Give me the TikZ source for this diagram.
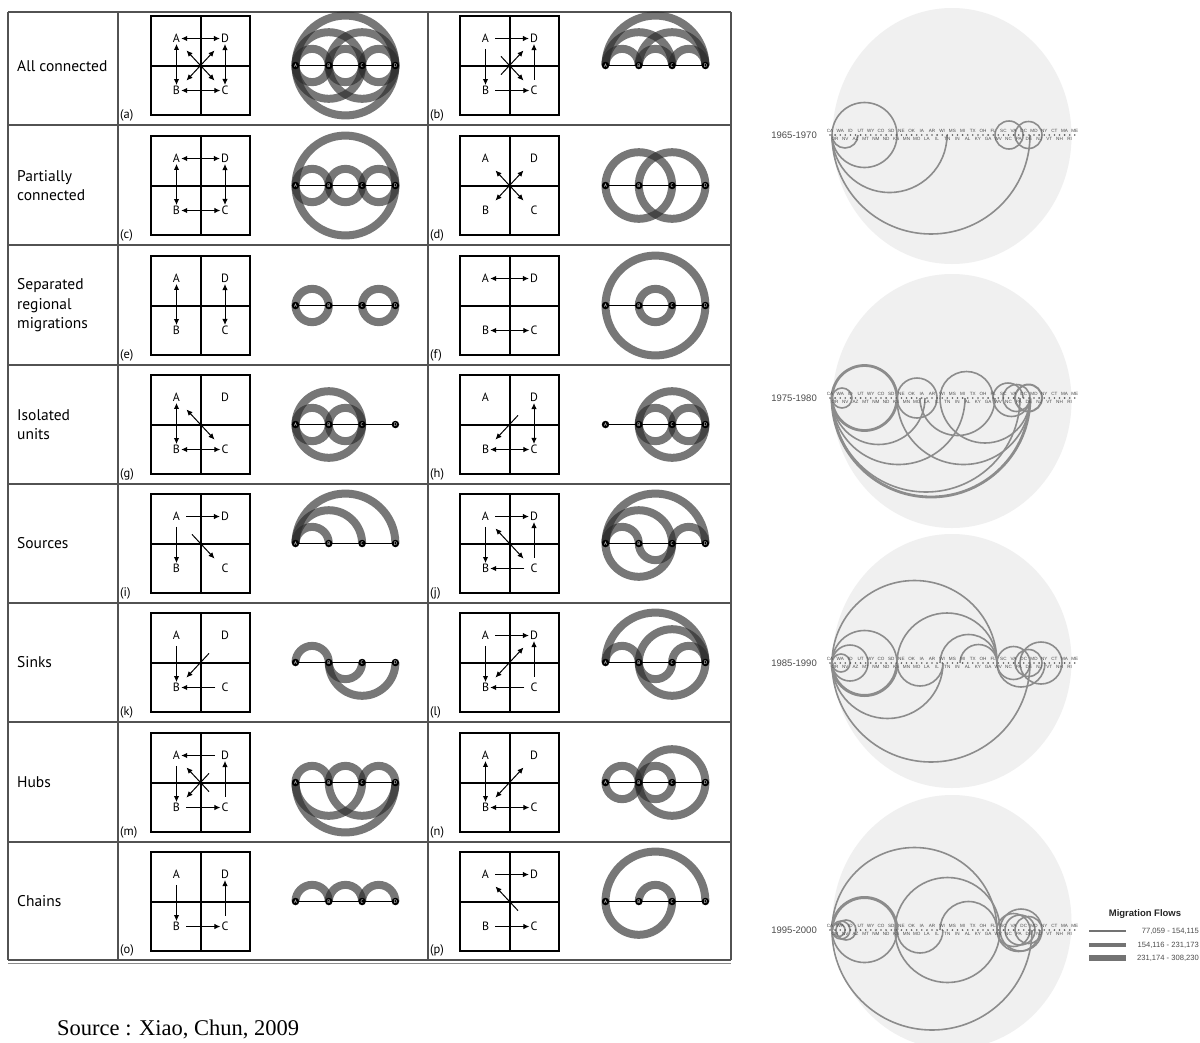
\documentclass[tikz,border=0pt]{standalone}
\usepackage{fontspec}
\setmainfont{PT Sans}
\newfontfamily\arialf{Liberation Sans}
\newfontfamily\timesf{Liberation Serif}
\usetikzlibrary{arrows.meta}
\def\sp{33.3}
\tikzset{
 tline/.style={draw=black!68, line width=1.2pt},
 boxline/.style={line width=2.6pt, line join=miter},
 crossline/.style={line width=2pt},
 glab/.style={font=\fontsize{12}{13}\selectfont, inner sep=1pt},
 rowlab/.style={font=\fontsize{15.5}{19.5}\selectfont, align=left, anchor=west, inner sep=0pt},
 sublab/.style={font=\fontsize{12.5}{13}\selectfont, anchor=west, inner sep=0pt},
 dbl/.style={line width=1pt, {Latex[length=6pt,width=5.5pt]}-{Latex[length=6pt,width=5.5pt]}},
 sgl/.style={line width=1pt, -{Latex[length=6pt,width=5.5pt]}, shorten <=5pt},
 sgld/.style={line width=1pt, -{Latex[length=6pt,width=5.5pt]}, shorten <=8pt},
 band/.style={line width=8pt, draw=black!84, draw opacity=0.63},
 baseln/.style={line width=1.8pt},
 ptn/.style={circle, fill=black, inner sep=0pt, minimum size=7.5pt, text=white, font=\fontsize{5}{5}\selectfont},
 disc/.style={fill=black!6},
 flow/.style={draw=black!45},
 st/.style={font=\arialf\fontsize{4.6}{4.6}\selectfont, text=black!70, inner sep=0pt},
 yr/.style={font=\arialf\fontsize{9.5}{10}\selectfont, text=black!70, anchor=east, inner sep=0pt},
 legt/.style={font=\arialf\fontsize{7.6}{9}\selectfont, text=black!70, anchor=east, inner sep=0pt},
 legbar/.style={draw=black!55},
}
% grid cell: prefix, cx, cy
\newcommand{\mgrid}[3]{%
 \begin{scope}[shift={(#2,#3)}]
  \draw[boxline] (-49.5,-49.5) rectangle (49.5,49.5);
  \draw[crossline] (0,-49.5) -- (0,49.5) (-49.5,0) -- (49.5,0);
  \node[glab] (#1A) at (-24,-27) {A};
  \node[glab] (#1D) at (24.5,-27) {D};
  \node[glab] (#1B) at (-24,25) {B};
  \node[glab] (#1C) at (24.5,25) {C};
  \coordinate (#1ul) at (-14,-15); \coordinate (#1ur) at (14,-15);
  \coordinate (#1ll) at (-14,15); \coordinate (#1lr) at (14,15);
 \end{scope}}
% arc diagram: prefix, xA, y, list i/j/type (0 above, 1 below, 2 full)
\newcommand{\marcs}[4]{%
 \begin{scope}[shift={(#2,#3)}]
  \foreach \i/\j/\t in {#4}{%
   \pgfmathsetmacro\rr{(\j-\i)*\sp/2}%
   \ifcase\t
    \draw[band] ({\i*\sp},0) arc[start angle=180,end angle=360,radius=\rr];
   \or
    \draw[band] ({\i*\sp},0) arc[start angle=180,end angle=0,radius=\rr];
   \or
    \draw[band] ({(\i+\j)*\sp/2},0) circle[radius=\rr];
   \fi}
  \coordinate (#1a0) at (0,0);
  \coordinate (#1a3) at ({3*\sp},0);
  \draw[baseln] (#1a0) -- (#1a3);
  \node[ptn] (#1A) at (0,0) {A};
  \node[ptn] (#1B) at ({\sp},0) {B};
  \node[ptn] (#1C) at ({2*\sp},0) {C};
  \node[ptn] (#1D) at ({3*\sp},0) {D};
 \end{scope}}
% migration flows: y, list x1/x2/type/width
\newcommand{\flows}[2]{%
 \foreach \xa/\xb/\t/\w in {#2}{%
  \pgfmathsetmacro\rr{(\xb-\xa)/2}%
  \ifcase\t
   \draw[flow,line width=\w pt] (\xa,#1) arc[start angle=180,end angle=360,radius=\rr];
  \or
   \draw[flow,line width=\w pt] (\xa,#1) arc[start angle=180,end angle=0,radius=\rr];
  \or
   \draw[flow,line width=\w pt] ({(\xa+\xb)/2},#1) circle[radius=\rr];
  \fi}}
% states row: y, id
\newcommand{\statesrow}[2]{%
 \foreach \s [count=\k from 0] in {CA,OR,WA,NV,ID,AZ,UT,MT,WY,NM,CO,ND,SD,KS,NE,MN,OK,MO,IA,LA,AR,IL,WI,TN,MS,IN,MI,AL,TX,KY,OH,GA,FL,WV,SC,NC,VA,PA,DC,DE,MD,NJ,NY,VT,CT,NH,MA,RI,ME}{%
  \fill[black!65] ({830+\k*5.1},#1) circle[radius=0.9];
  \ifodd\k
   \node[st] (#2s\k) at ({830+\k*5.1},#1+4.4) {\s};
  \else
   \node[st] (#2s\k) at ({830+\k*5.1},#1-4.4) {\s};
  \fi}}
\begin{document}
\begin{tikzpicture}[x=1pt,y=-1pt]
\useasboundingbox (0,0) rectangle (1200,1042);
\fill[white] (0,0) rectangle (1200,1042);
% ---------- table frame ----------
\foreach \yy in {12,125,245,365,484,603,722,842,960}
  \draw[tline] (8,\yy) -- (731,\yy);
\draw[draw=black!45, line width=1pt] (8,963.5) -- (731,963.5);
\foreach \xx in {8,118,428,731}
  \draw[tline] (\xx,12) -- (\xx,960);
% ---------- row labels ----------
\node[rowlab] (r1) at (17,66) {All connected};
\node[rowlab] (r2) at (17,185.5) {Partially\\connected};
\node[rowlab] (r3) at (17,305.5) {Separated\\regional\\migrations};
\node[rowlab] (r4) at (17,424.5) {Isolated\\units};
\node[rowlab] (r5) at (17,543.5) {Sources};
\node[rowlab] (r6) at (17,662.5) {Sinks};
\node[rowlab] (r7) at (17,782.5) {Hubs};
\node[rowlab] (r8) at (17,901.5) {Chains};
% ---------- sub labels ----------
\foreach \lab/\yy in {a/115,c/235,e/355,g/474,i/593,k/712,m/832,o/950}
  \node[sublab] (s\lab) at (120,\yy) {(\lab)};
\foreach \lab/\yy in {b/115,d/235,f/355,h/474,j/593,l/712,n/832,p/950}
  \node[sublab] (s\lab) at (430,\yy) {(\lab)};
% ---------- grid cells ----------
\mgrid{a}{200.5}{65.5}
\draw[dbl] (aA) -- (aD); \draw[dbl] (aB) -- (aC); \draw[dbl] (aA) -- (aB); \draw[dbl] (aD) -- (aC);
\draw[dbl] (aul) -- (alr); \draw[dbl] (aur) -- (all);
\mgrid{b}{509.5}{65.5}
\draw[sgl] (bA) -- (bD); \draw[sgl] (bB) -- (bC); \draw[sgl] (bA) -- (bB); \draw[sgl] (bC) -- (bD);
\draw[sgld] (bul) -- (blr); \draw[sgld] (bll) -- (bur);
\mgrid{c}{200.5}{185.5}
\draw[dbl] (cA) -- (cD); \draw[dbl] (cB) -- (cC); \draw[dbl] (cA) -- (cB); \draw[dbl] (cD) -- (cC);
\mgrid{d}{509.5}{185.5}
\draw[dbl] (dul) -- (dlr); \draw[dbl] (dur) -- (dll);
\mgrid{e}{200.5}{305.5}
\draw[dbl] (eA) -- (eB); \draw[dbl] (eD) -- (eC);
\mgrid{f}{509.5}{305.5}
\draw[dbl] (fA) -- (fD); \draw[dbl] (fB) -- (fC);
\mgrid{g}{200.5}{424.5}
\draw[dbl] (gA) -- (gB); \draw[dbl] (gB) -- (gC); \draw[dbl] (gul) -- (glr);
\mgrid{h}{509.5}{424.5}
\draw[dbl] (hD) -- (hC); \draw[dbl] (hB) -- (hC); \draw[sgld] (hur) -- (hll);
\mgrid{i}{200.5}{543.5}
\draw[sgl] (iA) -- (iD); \draw[sgl] (iA) -- (iB); \draw[sgld] (iul) -- (ilr);
\mgrid{j}{509.5}{543.5}
\draw[sgl] (jA) -- (jD); \draw[sgl] (jA) -- (jB); \draw[sgl] (jC) -- (jB); \draw[sgl] (jC) -- (jD);
\draw[dbl] (jul) -- (jlr);
\mgrid{k}{200.5}{662.5}
\draw[sgl] (kA) -- (kB); \draw[sgl] (kC) -- (kB); \draw[sgld] (kur) -- (kll);
\mgrid{l}{509.5}{662.5}
\draw[sgl] (lA) -- (lD); \draw[sgl] (lA) -- (lB); \draw[sgl] (lC) -- (lB); \draw[sgl] (lC) -- (lD);
\draw[dbl] (lll) -- (lur);
\mgrid{m}{200.5}{782.5}
\draw[sgl] (mD) -- (mA); \draw[sgl] (mA) -- (mB); \draw[sgl] (mB) -- (mC); \draw[sgl] (mC) -- (mD);
\draw[sgld] (mlr) -- (mul); \draw[sgld] (mur) -- (mll);
\mgrid{n}{509.5}{782.5}
\draw[dbl] (nA) -- (nB); \draw[dbl] (nB) -- (nC); \draw[dbl] (nll) -- (nur);
\mgrid{o}{200.5}{901.5}
\draw[sgl] (oA) -- (oB); \draw[sgl] (oB) -- (oC); \draw[sgl] (oC) -- (oD);
\mgrid{p}{509.5}{901.5}
\draw[sgl] (pA) -- (pD); \draw[sgl] (pB) -- (pC); \draw[sgld] (plr) -- (pul);
% ---------- arc diagrams ----------
\marcs{qa}{295.5}{65.5}{0/1/2,1/2/2,2/3/2,0/2/2,1/3/2,0/3/2}
\marcs{qb}{605.5}{65.5}{0/1/0,1/2/0,2/3/0,0/2/0,1/3/0,0/3/0}
\marcs{qc}{295.5}{185.5}{0/1/2,1/2/2,2/3/2,0/3/2}
\marcs{qd}{605.5}{185.5}{0/2/2,1/3/2}
\marcs{qe}{295.5}{305.5}{0/1/2,2/3/2}
\marcs{qf}{605.5}{305.5}{0/3/2,1/2/2}
\marcs{qg}{295.5}{424.5}{0/1/2,1/2/2,0/2/2}
\marcs{qh}{605.5}{424.5}{1/2/2,2/3/2,1/3/2}
\marcs{qi}{295.5}{543.5}{0/1/0,0/2/0,0/3/0}
\marcs{qj}{605.5}{543.5}{0/3/0,0/1/0,1/2/1,2/3/0,0/2/0,0/2/1}
\marcs{qk}{295.5}{662.5}{0/1/0,1/2/1,1/3/1}
\marcs{ql}{605.5}{662.5}{0/3/0,0/1/0,1/2/1,2/3/0,1/3/2}
\marcs{qm}{295.5}{782.5}{0/1/0,1/2/0,2/3/0,0/3/1,0/2/1,1/3/1}
\marcs{qn}{605.5}{782.5}{0/1/2,1/2/2,1/3/2}
\marcs{qo}{295.5}{901.5}{0/1/0,1/2/0,2/3/0}
\marcs{qp}{605.5}{901.5}{0/3/0,1/2/0,0/2/1}
% ---------- source ----------
\node[anchor=base west, inner sep=0pt, font=\timesf\fontsize{22.5}{24}\selectfont] (src) at (57,1035) {Source : Xiao, Chun, 2009};
% ---------- discs ----------
\fill[disc] (952,136) ellipse[x radius=119.5, y radius=128];
\fill[disc] (952,401) ellipse[x radius=119.5, y radius=127];
\fill[disc] (952,661) ellipse[x radius=119.5, y radius=127];
\fill[disc] (952,922) ellipse[x radius=119.5, y radius=127];
% period 1
\flows{135}{832/897/2/1.6,832/858/1/1.6,832/947/1/1.6,832/1030/1/1.6,995/1023/2/1.6,1015/1042/2/1.6}
% period 2
\flows{398}{832/897/2/2.8,832/852/2/1.6,832/1030/1/2.8,832/1020/1/1.6,832/965/1/1.6,832/925/1/1.6,897/937/2/1.6,897/1030/1/1.6,940/993/0/1.6,940/1030/1/1.6,920/995/1/1.6,993/1023/0/1.6,1015/1042/2/2,1003/1030/2/1.6,993/1030/1/1.6}
% period 3
\flows{663}{832/997/0/1.6,832/1030/1/1.6,897/997/0/1.6,832/943/1/1.6,832/897/2/1.6,832/897/1/3,832/850/2/1.6,832/868/2/1.6,897/943/1/1.6,940/997/0/1.6,960/997/0/1.6,997/1030/2/1.6,1015/1042/2/1.6,1020/1062/2/1.6,997/1045/1/1.6}
% period 4
\flows{930}{832/997/0/1.6,832/1032/1/1.6,895/1000/2/1.6,832/897/2/1.6,832/897/0/3,940/997/0/1.6,897/943/1/1.6,832/850/2/1.6,832/845/2/1.6,836/856/2/1.6,997/1030/2/1.6,1000/1042/2/1.6,1015/1042/2/1.6,997/1040/1/1.6,1005/1035/2/1.6}
\statesrow{135}{pa}
\statesrow{398}{pb}
\statesrow{663}{pc}
\statesrow{930}{pd}
\node[yr] (y1) at (817,135) {1965-1970};
\node[yr] (y2) at (817,398) {1975-1980};
\node[yr] (y3) at (817,663) {1985-1990};
\node[yr] (y4) at (817,930) {1995-2000};
% ---------- legend ----------
\node[font=\arialf\bfseries\fontsize{9.5}{10}\selectfont, text=black!85, inner sep=0pt] (lg) at (1145,914) {Migration Flows};
\coordinate (b1a) at (1089,931); \coordinate (b1b) at (1126,931);
\coordinate (b2a) at (1089,945); \coordinate (b2b) at (1126,945);
\coordinate (b3a) at (1089,958); \coordinate (b3b) at (1126,958);
\draw[legbar, line width=2pt] (b1a) -- (b1b);
\draw[legbar, line width=4pt] (b2a) -- (b2b);
\draw[legbar, line width=6pt] (b3a) -- (b3b);
\node[legt] (l1) at (1199,931) {77,059 - 154,115};
\node[legt] (l2) at (1199,945) {154,116 - 231,173};
\node[legt] (l3) at (1199,958) {231,174 - 308,230};
\end{tikzpicture}
\end{document}
